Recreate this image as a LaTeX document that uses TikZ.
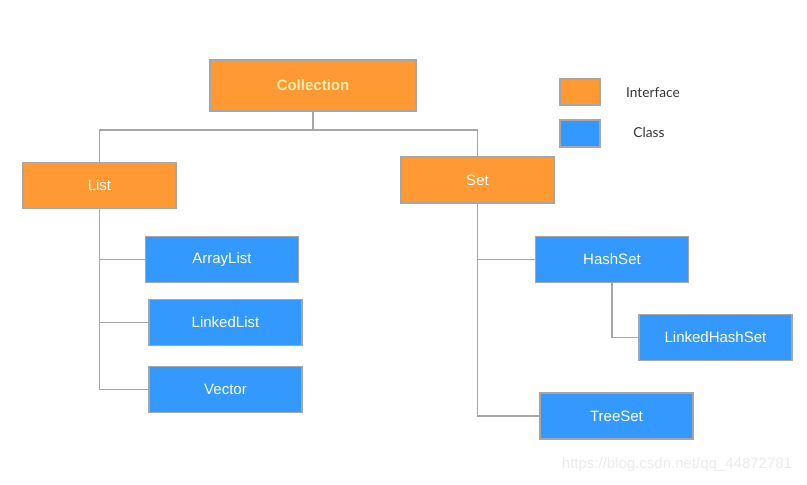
\documentclass[tikz,border=0pt]{standalone}
\usepackage{fontspec}
\setmainfont{Liberation Sans}
\newfontfamily\legendfont{Lato}
\definecolor{iface}{RGB}{255,153,51}
\definecolor{cls}{RGB}{51,153,255}
\definecolor{edge}{RGB}{166,166,166}
\definecolor{pale}{RGB}{255,236,170}
\definecolor{wmgray}{RGB}{236,236,236}

\begin{document}
\begin{tikzpicture}[x=1pt,y=-1pt,
    box/.style={draw=edge,line width=1.2pt,minimum width=153pt,minimum height=46pt,inner sep=0pt,text=white,font=\fontsize{15}{17}\selectfont},
    ibox/.style={box,fill=iface},
    cbox/.style={box,fill=cls},
    keytext/.style={text=black!80,font=\legendfont\fontsize{13.7}{15}\selectfont},
    conn/.style={draw=edge,line width=1.8pt}]
                \useasboundingbox (0,0) rectangle (807,485);
                % root
                \node[ibox,minimum width=206pt,minimum height=51pt,text=pale,font=\bfseries\fontsize{15}{18}\selectfont] (coll) at (313,85.5) {Collection};
                % interfaces
                \node[ibox] (list) at (99.5,185.5) {List};
                \node[ibox] (set) at (477.5,180) {Set};
                % classes
                \node[cbox] (alist) at (222,259.5) {ArrayList};
                \node[cbox] (llist) at (225.5,322.5) {LinkedList};
                \node[cbox] (vec) at (225.5,389.5) {Vector};
                \node[cbox] (hset) at (612,259.5) {HashSet};
                \node[cbox] (lhset) at (715.5,337.5) {LinkedHashSet};
                \node[cbox] (tset) at (616.5,416) {TreeSet};
                % legend
                \node[ibox,minimum width=40pt,minimum height=26pt] (ikey) at (580,92) {};
                \node[cbox,minimum width=40pt,minimum height=27pt] (ckey) at (580,133.5) {};
                \node[keytext] (ilabel) at (653,93) {Interface};
                \node[keytext] (clabel) at (649,133) {Class};
                % lines
                \draw[conn] (coll.south) -- ++(0,18) -| (list.north);
                \draw[conn] (coll.south) -- ++(0,18) -| (set.north);
                \draw[conn] (list.south) |- (alist.west);
                \draw[conn] (list.south) |- (llist.west);
                \draw[conn] (list.south) |- (vec.west);
                \draw[conn] (set.south) |- (hset.west);
                \draw[conn] (set.south) |- (tset.west);
                \draw[conn] (hset.south) |- (lhset.west);
                % watermark
                \node[text=wmgray,font=\fontsize{15}{17}\selectfont] (wm) at (677,465) {https://blog.csdn.net/qq\_44872781};
            \end{tikzpicture}
\end{document}
